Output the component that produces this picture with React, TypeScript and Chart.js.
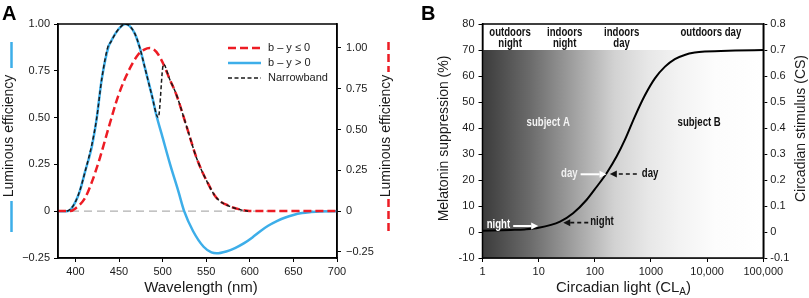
import React, { useEffect, useRef } from "react";
import { Chart, registerables } from "chart.js";
Chart.register(...registerables);

const FONT = "'Liberation Sans', Arial, Helvetica, sans-serif";

// ---------- Panel A data ----------
const blueWavelengths = [380, 390, 394, 400, 405, 411, 419, 424.5, 430, 438, 440, 446, 453, 457, 462, 468, 474, 480, 487.6, 493, 499, 508.6, 518, 524.7, 535, 547, 556, 562, 573, 583, 593, 603, 612, 621, 631, 640, 650, 660, 669, 680, 700];
const blueEfficiency = [0, 0, 0.007, 0.05, 0.107, 0.21, 0.35, 0.5, 0.7, 0.88, 0.9, 0.95, 0.99, 1.0, 0.99, 0.95, 0.87, 0.76, 0.62, 0.51, 0.41, 0.25, 0.107, 0, -0.107, -0.19, -0.22, -0.225, -0.215, -0.197, -0.172, -0.14, -0.107, -0.078, -0.053, -0.035, -0.02, -0.01, -0.005, -0.001, 0];

const redWavelengths = [380, 394, 400, 411, 419, 428, 438, 449, 461, 472, 479, 485, 490, 495, 501, 508, 516, 528, 539, 551, 562, 577, 590, 597, 610, 700];
const redEfficiency = [0, 0, 0.016, 0.08, 0.18, 0.325, 0.51, 0.705, 0.86, 0.96, 0.99, 1.0, 0.99, 0.96, 0.9, 0.81, 0.71, 0.51, 0.325, 0.18, 0.08, 0.03, 0.008, 0.002, 0, 0];

const narrowWavelengths = [390, 394, 400, 405, 411, 419, 424.5, 430, 438, 440, 446, 453, 457, 462, 468, 474, 480, 487.6, 495, 501, 508, 516, 528, 539, 551, 562, 577, 590, 598];
const narrowEfficiency = [0, 0.01, 0.05, 0.11, 0.21, 0.36, 0.5, 0.7, 0.89, 0.9, 0.95, 0.99, 1.0, 0.99, 0.95, 0.87, 0.76, 0.62, 0.5, 0.785, 0.706, 0.62, 0.445, 0.283, 0.157, 0.07, 0.026, 0.007, 0];

const wavelengthTicks = [400, 450, 500, 550, 600, 650, 700];
const efficiencyTicks = [-0.25, 0, 0.25, 0.5, 0.75, 1.0];
const seriesLabels = ["b \u2013 y \u2264 0", "b \u2013 y > 0", "Narrowband"];

// ---------- Panel B data ----------
const circadianLight = [1, 3.16, 5.6, 10, 24, 41, 71, 108, 162, 244, 344, 518, 776, 1175, 1778, 2661, 3981, 6026, 9120, 31623, 100000];
const melatoninSuppression = [0.5, 0.8, 1.0, 1.6, 4.0, 7.2, 12.3, 17.4, 22.6, 29, 35.5, 44.5, 52.5, 59.1, 63.6, 66.5, 68.1, 69, 69.4, 69.8, 70];
const clTicks = [1, 10, 100, 1000, 10000, 100000];
const clTickLabels = ["1", "10", "100", "1000", "10,000", "100,000"];
const suppressionTicks = [-10, 0, 10, 20, 30, 40, 50, 60, 70, 80];
const csTickLabels = ["-0.1", "0", "0.1", "0.2", "0.3", "0.4", "0.5", "0.6", "0.7", "0.8"];

const pts = (xs: number[], ys: number[]) => xs.map((x, i) => ({ x, y: ys[i] }));

function fmtEff(v: number) {
  if (Math.abs(v) < 1e-9) return "0";
  return (v < 0 ? "\u2212" : "") + Math.abs(v).toFixed(2);
}

function condText(ctx: CanvasRenderingContext2D, text: string, x: number, y: number, color: string, align: CanvasTextAlign = "center", size = 12) {
  ctx.save();
  ctx.font = `bold ${size}px ${FONT}`;
  ctx.fillStyle = color;
  ctx.textBaseline = "middle";
  ctx.textAlign = align;
  ctx.translate(x, y);
  ctx.scale(0.8, 1);
  ctx.fillText(text, 0, 0);
  ctx.restore();
}

function arrow(ctx: CanvasRenderingContext2D, x0: number, y0: number, x1: number, y1: number, color: string, dashed: boolean) {
  const head = 7;
  const dir = Math.sign(x1 - x0);
  ctx.save();
  ctx.strokeStyle = color;
  ctx.fillStyle = color;
  ctx.lineWidth = dashed ? 1.6 : 2;
  ctx.setLineDash(dashed ? [4, 3] : []);
  ctx.beginPath();
  ctx.moveTo(x0, y0);
  ctx.lineTo(x1 - dir * head, y1);
  ctx.stroke();
  ctx.setLineDash([]);
  ctx.beginPath();
  ctx.moveTo(x1, y1);
  ctx.lineTo(x1 - dir * head, y1 - 3.5);
  ctx.lineTo(x1 - dir * head, y1 + 3.5);
  ctx.closePath();
  ctx.fill();
  ctx.restore();
}

function axisCommon(extra: any) {
  return {
    grid: { display: true, drawOnChartArea: false, drawTicks: true, tickLength: 4, color: "#000", lineWidth: 1 },
    border: { display: true, color: "#000", width: 1.5 },
    ...extra,
  };
}

export default function App() {
  const refA = useRef<HTMLCanvasElement>(null);
  const refB = useRef<HTMLCanvasElement>(null);

  useEffect(() => {
    const tickFont = { family: FONT, size: 11 };
    const tickColor = "#1a1a1a";

    const pluginA = {
      id: "panelA",
      beforeDatasetsDraw(chart: any) {
        const { ctx, chartArea } = chart;
        const y0 = chart.scales.y.getPixelForValue(0);
        ctx.save();
        ctx.strokeStyle = "#b0b0b0";
        ctx.lineWidth = 1.3;
        ctx.setLineDash([8, 5]);
        ctx.beginPath();
        ctx.moveTo(chartArea.left, y0);
        ctx.lineTo(chartArea.right, y0);
        ctx.stroke();
        ctx.restore();
      },
      afterDraw(chart: any) {
        const { ctx, chartArea } = chart;
        ctx.save();
        ctx.strokeStyle = "#000";
        ctx.lineWidth = 1.5;
        ctx.strokeRect(chartArea.left, chartArea.top, chartArea.right - chartArea.left, chartArea.bottom - chartArea.top);
        // legend
        const ds = chart.data.datasets;
        const rows = [48, 63, 78];
        ds.forEach((d: any, i: number) => {
          const y = rows[i];
          ctx.save();
          ctx.strokeStyle = d.borderColor;
          ctx.lineWidth = d.borderWidth;
          ctx.setLineDash(d.borderDash || []);
          ctx.beginPath();
          ctx.moveTo(228, y);
          ctx.lineTo(261, y);
          ctx.stroke();
          ctx.restore();
          ctx.fillStyle = "#222";
          ctx.font = `11px ${FONT}`;
          ctx.textAlign = "left";
          ctx.textBaseline = "middle";
          ctx.fillText(d.label, 268, y);
        });
        // y titles
        const title = "Luminous efficiency";
        ctx.font = `14px ${FONT}`;
        ctx.fillStyle = "#1a1a1a";
        ctx.textAlign = "center";
        ctx.textBaseline = "middle";
        ctx.save();
        ctx.translate(9.5, 136);
        ctx.rotate(-Math.PI / 2);
        ctx.fillText(title, 0, 0);
        ctx.restore();
        ctx.save();
        ctx.translate(386, 136);
        ctx.rotate(-Math.PI / 2);
        ctx.fillText(title, 0, 0);
        ctx.restore();
        // decorative lines
        ctx.save();
        ctx.strokeStyle = "#3daee9";
        ctx.lineWidth = 2.5;
        ctx.beginPath();
        ctx.moveTo(11.5, 42); ctx.lineTo(11.5, 68);
        ctx.moveTo(11.5, 201); ctx.lineTo(11.5, 232);
        ctx.stroke();
        ctx.strokeStyle = "#ed1c24";
        ctx.setLineDash([8, 4]);
        ctx.beginPath();
        ctx.moveTo(388.5, 42); ctx.lineTo(388.5, 72);
        ctx.stroke();
        ctx.beginPath();
        ctx.moveTo(388.5, 199); ctx.lineTo(388.5, 231);
        ctx.stroke();
        ctx.restore();
        // x title
        ctx.font = `15px ${FONT}`;
        ctx.fillStyle = "#1a1a1a";
        ctx.textAlign = "center";
        ctx.fillText("Wavelength (nm)", 201, 288);
        // panel letter
        ctx.font = `bold 20px ${FONT}`;
        ctx.fillStyle = "#000";
        ctx.textAlign = "left";
        ctx.textBaseline = "alphabetic";
        ctx.fillText("A", 2, 19.5);
        ctx.restore();
      },
    };

    const chartA = new Chart(refA.current!, {
      type: "line",
      data: {
        datasets: [
          { label: seriesLabels[0], data: pts(redWavelengths, redEfficiency), yAxisID: "y2", borderColor: "#ed1c24", borderWidth: 2.5, borderDash: [8, 4], pointRadius: 0, cubicInterpolationMode: "monotone", order: 1 },
          { label: seriesLabels[1], data: pts(blueWavelengths, blueEfficiency), yAxisID: "y", borderColor: "#3daee9", borderWidth: 2.5, pointRadius: 0, cubicInterpolationMode: "monotone", order: 2 },
          { label: seriesLabels[2], data: pts(narrowWavelengths, narrowEfficiency), yAxisID: "y", borderColor: "#1a1a1a", borderWidth: 1.5, borderDash: [4, 2.5], pointRadius: 0, cubicInterpolationMode: "monotone", order: 0 },
        ] as any,
      },
      options: {
        animation: false,
        responsive: false,
        events: [],
        layout: { padding: { top: 24, left: 0, right: 0, bottom: 0 } },
        plugins: { legend: { display: false }, title: { display: false }, tooltip: { enabled: false } },
        scales: {
          x: axisCommon({
            type: "linear", min: 380, max: 700,
            ticks: { font: tickFont, color: tickColor, padding: 3, maxRotation: 0 },
            afterBuildTicks: (s: any) => { s.ticks = wavelengthTicks.map((v) => ({ value: v })); },
            afterFit: (s: any) => { s.height = 40; },
          }),
          y: axisCommon({
            type: "linear", position: "left", min: -0.25, max: 1.0,
            ticks: { font: tickFont, color: tickColor, padding: 4, callback: (v: any) => fmtEff(Number(v)) },
            afterBuildTicks: (s: any) => { s.ticks = efficiencyTicks.map((v) => ({ value: v })); },
            afterFit: (s: any) => { s.width = 58; },
          }),
          y2: axisCommon({
            type: "linear", position: "right", min: -0.288, max: 1.147,
            ticks: { font: tickFont, color: tickColor, padding: 5, callback: (v: any) => fmtEff(Number(v)) },
            afterBuildTicks: (s: any) => { s.ticks = efficiencyTicks.map((v) => ({ value: v })); },
            afterFit: (s: any) => { s.width = 68; },
          }),
        },
      } as any,
      plugins: [pluginA],
    });

    const pluginB = {
      id: "panelB",
      beforeDatasetsDraw(chart: any) {
        const { ctx, chartArea } = chart;
        const yTop = chart.scales.y.getPixelForValue(70);
        const g = ctx.createLinearGradient(chartArea.left, 0, chartArea.right, 0);
        g.addColorStop(0, "#3b3b3b");
        g.addColorStop(0.17, "#6b6b6b");
        g.addColorStop(0.35, "#a9a9a9");
        g.addColorStop(0.47, "#d2d2d2");
        g.addColorStop(0.59, "#e7e7e7");
        g.addColorStop(0.7, "#f3f3f3");
        g.addColorStop(0.83, "#fcfcfc");
        g.addColorStop(1, "#ffffff");
        ctx.save();
        ctx.fillStyle = g;
        ctx.fillRect(chartArea.left, yTop, chartArea.right - chartArea.left, chartArea.bottom - yTop);
        ctx.restore();
      },
      afterDatasetsDraw(chart: any) {
        const { ctx } = chart;
        const xs = chart.scales.x;
        const ys = chart.scales.y;
        const X = (v: number) => xs.getPixelForValue(v);
        const Y = (v: number) => ys.getPixelForValue(v);
        // zone labels
        condText(ctx, "outdoors", X(3.1), Y(76.7), "#111");
        condText(ctx, "night", X(3.1), Y(72.6), "#111");
        condText(ctx, "indoors", X(29), Y(76.7), "#111");
        condText(ctx, "night", X(29), Y(72.6), "#111");
        condText(ctx, "indoors", X(300), Y(76.7), "#111");
        condText(ctx, "day", X(300), Y(72.6), "#111");
        condText(ctx, "outdoors day", X(11650), Y(76.8), "#111");
        condText(ctx, "subject A", X(14.8), Y(42.1), "#f4f4f4");
        condText(ctx, "subject B", X(7210), Y(42.2), "#111");
        // arrows
        let tx = X(9.8), ty = Y(2.3);
        arrow(ctx, tx - 25, ty, tx, ty, "#ffffff", false);
        condText(ctx, "night", tx - 28, ty - 1, "#ffffff", "right");
        tx = X(27.4); ty = Y(3.6);
        arrow(ctx, tx + 25, ty, tx, ty, "#111", true);
        condText(ctx, "night", tx + 27, ty - 1, "#111", "left");
        tx = X(162); ty = Y(22.2);
        arrow(ctx, tx - 26, ty, tx, ty, "#ffffff", false);
        condText(ctx, "day", tx - 29, ty - 1, "#f0f0f0", "right");
        tx = X(185); ty = Y(22.3);
        arrow(ctx, tx + 27, ty, tx, ty, "#111", true);
        condText(ctx, "day", tx + 32, ty, "#111", "left");
      },
      afterDraw(chart: any) {
        const { ctx, chartArea } = chart;
        ctx.save();
        ctx.strokeStyle = "#000";
        ctx.lineWidth = 1.5;
        ctx.strokeRect(chartArea.left, chartArea.top, chartArea.right - chartArea.left, chartArea.bottom - chartArea.top);
        ctx.fillStyle = "#1a1a1a";
        ctx.textAlign = "center";
        ctx.textBaseline = "middle";
        ctx.font = `14px ${FONT}`;
        ctx.save();
        ctx.translate(39.5, 138.5);
        ctx.rotate(-Math.PI / 2);
        ctx.fillText("Melatonin suppression (%)", 0, 0);
        ctx.restore();
        ctx.save();
        ctx.translate(396.5, 128.5);
        ctx.rotate(-Math.PI / 2);
        ctx.fillText("Circadian stimulus (CS)", 0, 0);
        ctx.restore();
        // x title with subscript
        const main = "Circadian light (CL";
        const sub = "A";
        const close = ")";
        ctx.font = `15px ${FONT}`;
        const w1 = ctx.measureText(main).width;
        const w3 = ctx.measureText(close).width;
        ctx.font = `10px ${FONT}`;
        const w2 = ctx.measureText(sub).width;
        const total = w1 + w2 + w3;
        let x = 218.5 - total / 2;
        ctx.textAlign = "left";
        ctx.font = `15px ${FONT}`;
        ctx.fillText(main, x, 288);
        x += w1;
        ctx.font = `10px ${FONT}`;
        ctx.fillText(sub, x, 292);
        x += w2;
        ctx.font = `15px ${FONT}`;
        ctx.fillText(close, x, 288);
        // panel letter
        ctx.font = `bold 20px ${FONT}`;
        ctx.fillStyle = "#000";
        ctx.textBaseline = "alphabetic";
        ctx.fillText("B", 16, 19.5);
        ctx.restore();
      },
    };

    const chartB = new Chart(refB.current!, {
      type: "line",
      data: {
        datasets: [
          { label: "CS", data: pts(circadianLight, melatoninSuppression), yAxisID: "y", borderColor: "#000", borderWidth: 2, pointRadius: 0, cubicInterpolationMode: "monotone" },
        ] as any,
      },
      options: {
        animation: false,
        responsive: false,
        events: [],
        layout: { padding: { top: 24, left: 0, right: 0, bottom: 0 } },
        plugins: { legend: { display: false }, title: { display: false }, tooltip: { enabled: false } },
        scales: {
          x: axisCommon({
            type: "logarithmic", min: 1, max: 100000,
            ticks: { font: tickFont, color: tickColor, padding: 3, maxRotation: 0, autoSkip: false, callback: (v: any) => { const i = clTicks.indexOf(Number(v)); return i >= 0 ? clTickLabels[i] : ""; } },
            afterBuildTicks: (s: any) => { s.ticks = clTicks.map((v) => ({ value: v })); },
            afterFit: (s: any) => { s.height = 40; },
          }),
          y: axisCommon({
            type: "linear", position: "left", min: -10, max: 80,
            ticks: { font: tickFont, color: tickColor, padding: 4, callback: (v: any) => String(v) },
            afterBuildTicks: (s: any) => { s.ticks = suppressionTicks.map((v) => ({ value: v })); },
            afterFit: (s: any) => { s.width = 77.5; },
          }),
          y2: axisCommon({
            type: "linear", position: "right", min: -10, max: 80,
            ticks: { font: tickFont, color: tickColor, padding: 3, callback: (v: any) => { const i = suppressionTicks.indexOf(Math.round(Number(v))); return i >= 0 ? csTickLabels[i] : ""; } },
            afterBuildTicks: (s: any) => { s.ticks = suppressionTicks.map((v) => ({ value: v })); },
            afterFit: (s: any) => { s.width = 45.7; },
          }),
        },
      } as any,
      plugins: [pluginB],
    });

    return () => {
      chartA.destroy();
      chartB.destroy();
    };
  }, []);

  return (
    <div style={{ position: "fixed", left: 0, top: 0, width: 809, height: 298, background: "#fff", overflow: "hidden" }}>
      <canvas ref={refA} width={405} height={298} style={{ position: "absolute", left: 0, top: 0, width: 405, height: 298 }} />
      <canvas ref={refB} width={404} height={298} style={{ position: "absolute", left: 405, top: 0, width: 404, height: 298 }} />
    </div>
  );
}
